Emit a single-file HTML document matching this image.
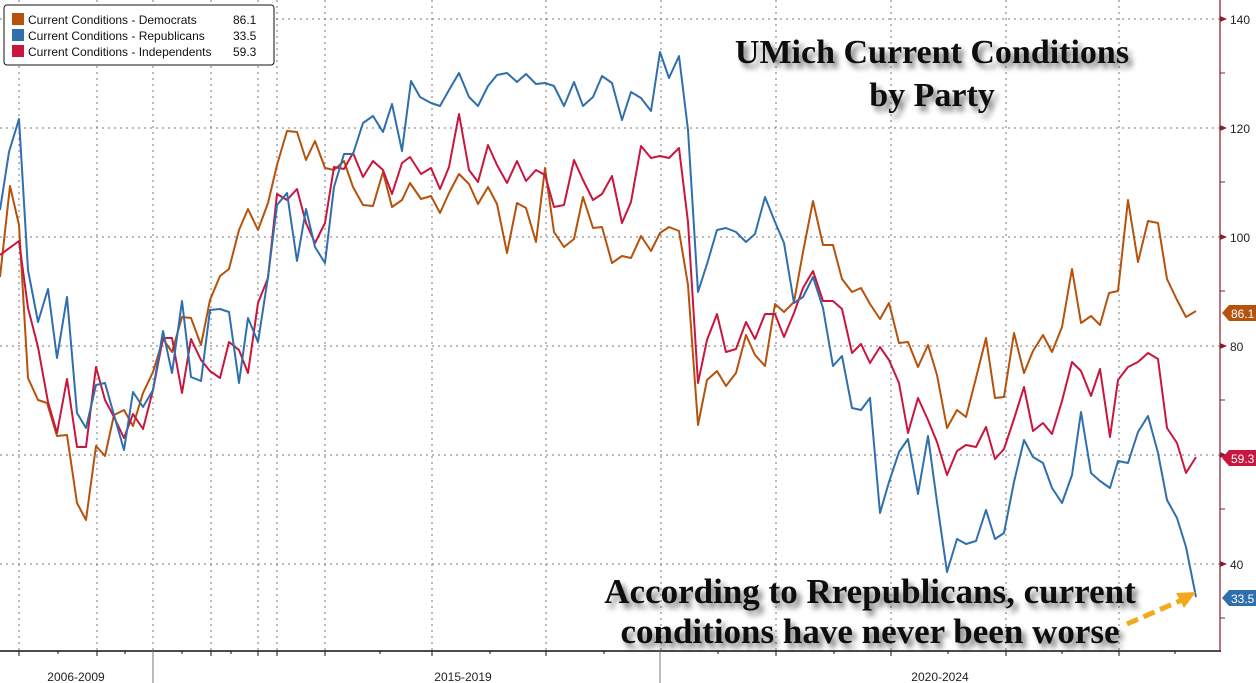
<!DOCTYPE html>
<html><head><meta charset="utf-8"><style>
html,body{margin:0;padding:0;background:#fff;}
svg{display:block;}
.t{font-family:"Liberation Serif",serif;font-weight:bold;fill:#111;}
.ax{font-family:"Liberation Sans",sans-serif;font-size:12px;fill:#222;}
</style></head><body>
<svg width="1256" height="683" viewBox="0 0 1256 683" xmlns="http://www.w3.org/2000/svg">
<defs>
<filter id="sh" x="-10%" y="-30%" width="120%" height="160%">
<feGaussianBlur in="SourceAlpha" stdDeviation="3"/><feOffset dx="4" dy="5"/>
<feComponentTransfer><feFuncA type="linear" slope="0.55"/></feComponentTransfer>
<feMerge><feMergeNode/><feMergeNode in="SourceGraphic"/></feMerge></filter>
</defs>
<rect width="1256" height="683" fill="#fff"/>
<g stroke="#777" stroke-width="1" stroke-dasharray="2,4">
<line x1="0" y1="19" x2="1220" y2="19"/><line x1="0" y1="128" x2="1220" y2="128"/>
<line x1="0" y1="237" x2="1220" y2="237"/><line x1="0" y1="346" x2="1220" y2="346"/>
<line x1="0" y1="455" x2="1220" y2="455"/><line x1="0" y1="564" x2="1220" y2="564"/>
<line x1="19" y1="0" x2="19" y2="651"/><line x1="97" y1="0" x2="97" y2="651"/>
<line x1="153" y1="0" x2="153" y2="651"/><line x1="211" y1="0" x2="211" y2="651"/>
<line x1="258" y1="0" x2="258" y2="651"/><line x1="277" y1="0" x2="277" y2="651"/>
<line x1="325" y1="0" x2="325" y2="651"/><line x1="432" y1="0" x2="432" y2="651"/>
<line x1="546" y1="0" x2="546" y2="651"/><line x1="661" y1="0" x2="661" y2="651"/>
<line x1="776" y1="0" x2="776" y2="651"/><line x1="891" y1="0" x2="891" y2="651"/>
<line x1="1006" y1="0" x2="1006" y2="651"/><line x1="1119" y1="0" x2="1119" y2="651"/>
</g>
<line x1="0" y1="651" x2="1221" y2="651" stroke="#111" stroke-width="1.5"/>
<line x1="153" y1="651" x2="153" y2="683" stroke="#777"/>
<line x1="660" y1="651" x2="660" y2="683" stroke="#777"/>
<line x1="1220" y1="0" x2="1220" y2="651" stroke="#8b1a2b" stroke-width="1.2"/>
<g stroke="#111">
<line x1="19" y1="651" x2="19" y2="656"/><line x1="58" y1="651" x2="58" y2="654"/><line x1="97" y1="651" x2="97" y2="656"/><line x1="125" y1="651" x2="125" y2="654"/><line x1="182" y1="651" x2="182" y2="654"/><line x1="211" y1="651" x2="211" y2="656"/><line x1="231" y1="651" x2="231" y2="654"/><line x1="258" y1="651" x2="258" y2="656"/><line x1="277" y1="651" x2="277" y2="656"/><line x1="325" y1="651" x2="325" y2="656"/><line x1="380" y1="651" x2="380" y2="654"/><line x1="432" y1="651" x2="432" y2="656"/><line x1="490" y1="651" x2="490" y2="654"/><line x1="546" y1="651" x2="546" y2="656"/><line x1="604" y1="651" x2="604" y2="654"/><line x1="718" y1="651" x2="718" y2="654"/><line x1="776" y1="651" x2="776" y2="656"/><line x1="834" y1="651" x2="834" y2="654"/><line x1="891" y1="651" x2="891" y2="656"/><line x1="948" y1="651" x2="948" y2="654"/><line x1="1006" y1="651" x2="1006" y2="656"/><line x1="1062" y1="651" x2="1062" y2="654"/><line x1="1119" y1="651" x2="1119" y2="656"/><line x1="1175" y1="651" x2="1175" y2="654"/>
</g>
<g fill="#8b1a2b">
<polygon points="1220,16 1227,19 1220,22"/><polygon points="1220,125 1227,128 1220,131"/>
<polygon points="1220,234 1227,237 1220,240"/><polygon points="1220,343 1227,346 1220,349"/>
<polygon points="1220,452 1227,455 1220,458"/><polygon points="1220,561 1227,564 1220,567"/>
</g>
<g stroke="#8b1a2b"><line x1="1220" y1="73" x2="1225" y2="73"/><line x1="1220" y1="182" x2="1225" y2="182"/><line x1="1220" y1="291" x2="1225" y2="291"/><line x1="1220" y1="400" x2="1225" y2="400"/><line x1="1220" y1="509" x2="1225" y2="509"/><line x1="1220" y1="618" x2="1225" y2="618"/></g>
<g class="ax">
<text x="1230" y="24">140</text><text x="1230" y="133">120</text><text x="1230" y="242">100</text>
<text x="1230" y="351">80</text><text x="1230" y="569">40</text>
<text x="76" y="681" text-anchor="middle">2006-2009</text>
<text x="463" y="681" text-anchor="middle">2015-2019</text>
<text x="940" y="681" text-anchor="middle">2020-2024</text>
</g>
<g fill="none" stroke-width="2" stroke-linejoin="round">
<polyline stroke="#b5520c" points="0,277 10,186 19,225 28,378 38,400 47,403 57,436 67,435 77,503 86,520 96,446 105,456 114,415 124,410 133,426 143,393 153,372 163,339 172,352 182,317 191,318 201,345 210,300 220,276 229,269 239,230 248,209 258,230 268,203 277,165 287,131 297,132 306,160 315,141 325,168 334,170 344,161 353,187 363,205 373,206 383,172 392,207 402,200 410,183 421,199 431,196 440,213 449,193 459,174 469,184 478,204 488,187 497,204 507,253 517,203 526,208 536,242 545,168 554,232 564,247 574,239 583,197 593,228 602,227 612,263 622,256 631,258 641,236 651,251 660,233 669,227 679,231 688,285 698,425 707,380 717,371 726,386 736,373 746,335 755,355 765,366 775,304 784,312 794,302 803,252 813,201 823,245 833,245 842,279 852,292 861,288 870,304 880,319 889,303 899,343 908,342 918,367 928,345 937,375 947,428 957,410 966,417 976,378 986,338 995,398 1004,397 1014,333 1024,373 1033,351 1043,335 1052,352 1062,327 1072,269 1081,323 1091,316 1100,325 1109,293 1118,291 1128,200 1138,262 1148,221 1158,223 1167,279 1177,300 1186,317 1196,311"/>
<polyline stroke="#c8163e" points="0,255 19,241 28,308 38,347 48,402 57,433 67,379 77,447 86,447 96,367 105,400 114,417 124,438 133,414 143,429 153,390 163,338 172,338 182,393 191,339 201,360 210,371 220,378 229,342 239,350 248,373 258,303 268,278 277,194 287,200 297,189 306,223 315,243 325,223 334,167 344,169 353,153 363,177 373,161 383,170 392,194 402,163 410,157 421,174 431,168 440,189 449,167 459,114 469,170 478,182 488,145 497,165 507,183 517,161 526,181 536,170 545,175 554,207 564,205 574,160 583,180 593,200 602,194 612,176 622,223 631,202 641,146 651,158 660,156 669,158 679,148 688,222 698,383 707,340 717,314 726,352 736,349 746,322 755,339 765,314 775,314 784,337 794,313 803,288 813,271 823,301 833,301 842,309 852,353 861,344 870,363 880,347 889,360 899,383 908,433 918,398 928,420 937,442 947,475 957,451 966,445 976,447 986,427 995,459 1004,449 1014,419 1024,387 1033,431 1043,423 1052,434 1062,401 1072,362 1081,371 1091,396 1100,369 1110,437 1118,380 1128,367 1138,362 1148,353 1158,359 1167,428 1177,443 1186,473 1196,457"/>
<polyline stroke="#2f6fad" points="0,210 9,152 19,119 28,270 38,322 48,289 57,358 67,297 77,413 86,428 96,385 105,383 114,415 124,450 133,392 143,407 153,390 163,331 172,373 182,301 191,377 201,381 210,310 220,309 229,312 239,383 248,318 258,342 268,277 277,205 287,193 297,261 306,209 315,247 325,263 334,187 344,154 353,154 363,123 373,116 383,132 392,104 402,151 411,81 420,97 431,103 440,106 449,90 459,73 469,97 478,106 488,86 497,75 507,73 517,82 526,74 536,84 545,83 554,86 564,106 574,82 583,106 593,97 602,76 612,83 622,120 631,92 641,98 651,111 660,52 669,78 679,56 688,130 698,292 707,264 717,230 726,228 736,232 746,242 755,234 765,197 775,222 784,243 794,303 803,297 813,277 823,308 833,366 842,356 852,408 861,410 870,398 880,513 889,482 899,452 908,439 918,494 928,436 937,502 947,572 957,539 966,544 976,541 986,510 995,539 1004,533 1014,482 1024,440 1033,457 1043,463 1052,488 1062,503 1072,475 1081,412 1091,473 1100,481 1110,488 1118,461 1128,463 1138,432 1148,416 1158,453 1167,500 1177,518 1186,547 1196,597"/>
</g>
<g font-family="Liberation Sans,sans-serif" font-size="12" fill="#fff">
<polygon points="1222,313 1229,305 1256,305 1256,321 1229,321" fill="#b5520c"/><text x="1231" y="318">86.1</text>
<polygon points="1222,458 1229,450 1256,450 1256,466 1229,466" fill="#c8163e"/><text x="1231" y="463">59.3</text>
<polygon points="1222,598 1229,590 1256,590 1256,606 1229,606" fill="#2f6fad"/><text x="1231" y="603">33.5</text>
</g>
<rect x="4" y="5" width="270" height="60" rx="3" fill="#fff" stroke="#111" stroke-width="1"/>
<g font-family="Liberation Sans,sans-serif" font-size="12" fill="#111">
<rect x="12" y="13" width="12" height="12" fill="#b5520c"/><text x="28" y="24">Current Conditions - Democrats</text><text x="233" y="24">86.1</text>
<rect x="12" y="29" width="12" height="12" fill="#2f6fad"/><text x="28" y="40">Current Conditions - Republicans</text><text x="233" y="40">33.5</text>
<rect x="12" y="45" width="12" height="12" fill="#c8163e"/><text x="28" y="56">Current Conditions - Independents</text><text x="233" y="56">59.3</text>
</g>
<g class="t" filter="url(#sh)" text-anchor="middle">
<text x="932" y="63" font-size="34">UMich Current Conditions</text>
<text x="932" y="106" font-size="34">by Party</text>
<text x="870" y="603" font-size="35">According to Rrepublicans, current</text>
<text x="870" y="643" font-size="35">conditions have never been worse</text>
</g>
<line x1="1127" y1="624" x2="1182" y2="600" stroke="#f2a91c" stroke-width="5" stroke-dasharray="12,6"/>
<polygon points="1196,592 1176,593 1184,608" fill="#f2a91c"/>
</svg>
</body></html>
